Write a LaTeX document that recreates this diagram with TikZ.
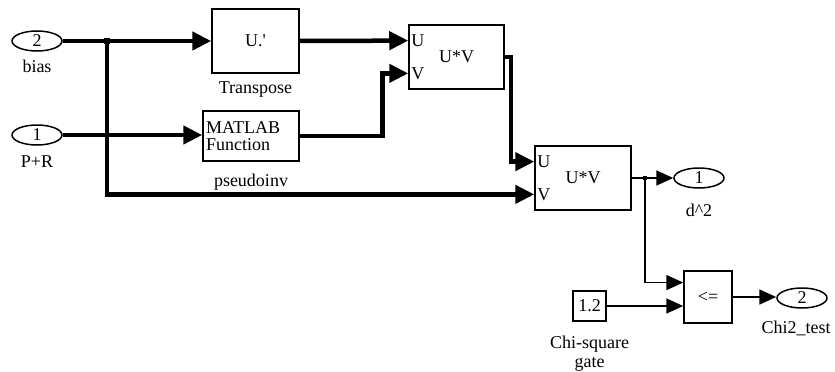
\documentclass[tikz,border=0pt]{standalone}
\usepackage{fontspec}
\setmainfont{Liberation Serif}
\usetikzlibrary{
  arrows.meta,
  calc,
  positioning,
  shapes.geometric
}
\tikzset{
  % For inports and outports.
  port/.style={
    draw,
    ellipse,
    line width=1.5pt,
    minimum width=50pt,
    minimum height=20pt,
    inner sep=0pt},
%
  % For rectangular blocks.
  block/.style={
    draw,
    line width=1.5pt,
    inner sep=0pt},
%
  % For block names below the blocks.
  caption/.style={
    inner sep=0pt},
%
  % For input names inside a block.
  inname/.style={
    inner sep=0pt,
    anchor=west,
    xshift=3pt},
%
  % For branch points.
  junction/.style={
    fill,
    inner sep=0pt,
    minimum size=#1},
  junction/.default=6pt,
%
  % For thick signal lines (matrices).
  bus/.style={
    line width=4.5pt,
    -{Triangle[length=19pt,width=18pt]}},
%
  % For thin signal lines (scalars).
  wire/.style={
    line width=1.8pt,
    -{Triangle[length=17pt,width=15pt]}}
}

\begin{document}
\begin{tikzpicture}[x=1pt, y=-1pt, font=\fontsize{18pt}{19pt}\selectfont]
  \useasboundingbox (0,0) rectangle (835,372);

  % Inports and the two upper blocks.
  \node[port] (in2) at (37,41) {2};
  \node[caption, below=8pt of in2] (in2name) {bias};
  \node[port] (in1) at (37,135) {1};
  \node[caption, below=10pt of in1] (in1name) {P+R};

  \node[block, minimum width=87pt, minimum height=64pt] (transpose)
    at (255.5,41) {U.\textquotesingle};
  \node[caption, below=8pt of transpose] (transposename) {Transpose};

  \node[block, minimum width=96pt, minimum height=50pt, text width=90pt,
        align=left, font=\fontsize{18pt}{17.5pt}\selectfont] (matlab)
    at (251,136) {MATLAB\\Function};
  \node[caption, below=12pt of matlab] (matlabname) {pseudoinv};

  % The two products; input 'U' at a quarter, 'V' at three quarters.
  \node[block, minimum width=95pt, minimum height=64pt] (prod1)
    at (456.5,57) {U*V};
  \node[block, minimum width=96pt, minimum height=64pt] (prod2)
    at (583,178) {U*V};
  \foreach \b in {prod1, prod2}
    {\coordinate (\b-u) at ($(\b.north west)!0.25!(\b.south west)$);
     \coordinate (\b-v) at ($(\b.north west)!0.75!(\b.south west)$);
     \node[inname] (\b-uname) at (\b-u) {U};
     \node[inname] (\b-vname) at (\b-v) {V};
    }

  % Outputs and the gate test.
  \node[port] (out1) at (699,178) {1};
  \node[caption, below=15pt of out1] (out1name) {d\textasciicircum 2};

  \node[block, minimum width=33pt, minimum height=30pt] (const)
    at (589.5,306) {1.2};
  \node[caption, align=center, below=14pt of const] (constname)
    {Chi-square\\gate};

  \node[block, minimum width=48pt, minimum height=52pt] (rel)
    at (708,297) {<=};
  \coordinate (rel-u) at ($(rel.north west)!0.23!(rel.south west)$);

  \node[port] (out2) at (802,298) {2};
  \node[caption, below=12pt of out2, xshift=-6pt] (out2name) {Chi2\_test};

  % Matrix signals.
  \draw[bus] (in2.east) -- (transpose.west);
  \draw[bus] (in1.east) -- (in1.east -| matlab.west);
  \draw[bus] (107,41) |- (prod2-v);
  \draw[bus] (transpose.east) -- (prod1-u);
  \draw[bus] (matlab.east) -| ($(prod1-v)+(-26,0)$) -- (prod1-v);
  \draw[bus] (prod1.east) -- ++(6,0) |- (prod2-u);
  \node[junction] (split1) at (107,41) {};

  % Scalar signals.
  \draw[wire] (prod2.east) -- (out1.west);
  \draw[wire] (645,178) |- (rel-u);
  \draw[wire] (const.east) -- (const.east -| rel.west);
  \draw[wire] (rel.east) -- (rel.east -| out2.west);
  \node[junction=4pt] (split2) at (645,178) {};
\end{tikzpicture}
\end{document}
